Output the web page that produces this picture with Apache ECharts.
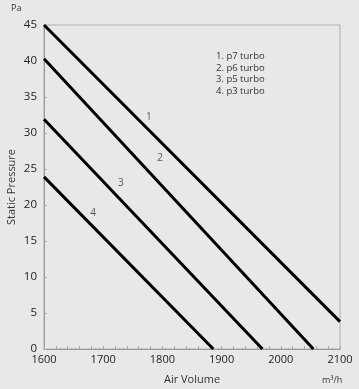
<!DOCTYPE html>
<html><head><meta charset="utf-8">
<script src="https://cdn.jsdelivr.net/npm/echarts@6/dist/echarts.min.js"></script>
<style>html,body{margin:0;padding:0;background:#e8e8e8;}#c{width:359px;height:389px;}</style>
</head><body><div id="c"></div>
<script>
var xTicks = [1600, 1700, 1800, 1900, 2000, 2100];
var yTicks = [0, 5, 10, 15, 20, 25, 30, 35, 40, 45];
var curve1 = [[1600, 45], [2100, 3.8]];
var curve2 = [[1600, 40.3], [2055, 0]];
var curve3 = [[1600, 31.9], [1969, 0]];
var curve4 = [[1600, 23.9], [1886, 0]];
var curveNames = ['1', '2', '3', '4'];
var curveLabelPos = [[1777, 32.2], [1796, 26.5], [1730, 23.1], [1683, 18.9]];
var legendLines = ['1. p7 turbo', '2. p6 turbo', '3. p5 turbo', '4. p3 turbo'];

var font = 'Open Sans';
var chart = echarts.init(document.getElementById('c'));
var curves = [curve1, curve2, curve3, curve4];
var series = curves.map(function (d, i) {
  return {type: 'line', data: d, symbol: 'none', silent: true,
    lineStyle: {color: '#000', width: 3}};
});
series.push({
  type: 'scatter', symbolSize: 0, silent: true,
  data: curveLabelPos.map(function (p, i) { return {value: p, name: curveNames[i]}; }),
  label: {show: true, position: 'inside', formatter: '{b}', color: '#333', fontSize: 10, fontFamily: font}
});
chart.setOption({
  backgroundColor: '#e8e8e8',
  animation: false,
  grid: {left: 44, right: 19, top: 25, bottom: 40, show: true, borderColor: '#b0b0b0', borderWidth: 1,
    backgroundColor: 'transparent', outerBoundsMode: 'none', containLabel: false},
  xAxis: {type: 'value', min: xTicks[0], max: xTicks[xTicks.length - 1], interval: 100,
    name: 'Air Volume', nameLocation: 'middle', nameGap: 25, nameMoveOverlap: false,
    nameTextStyle: {color: '#333', fontSize: 11, fontFamily: font},
    axisLine: {lineStyle: {color: '#999'}},
    axisTick: {show: true, inside: true, length: 3, lineStyle: {color: '#aaa'}},
    minorTick: {show: true, splitNumber: 5, length: 3, lineStyle: {color: '#aaa'}},
    splitLine: {show: false},
    axisLabel: {color: '#222', fontSize: 11, fontFamily: font, margin: 5, formatter: function (v) { return String(v); }}},
  yAxis: {type: 'value', min: 0, max: 45, interval: 5,
    name: 'Static Pressure', nameLocation: 'middle', nameGap: 27, nameRotate: 90, nameMoveOverlap: false,
    nameTextStyle: {color: '#333', fontSize: 11, fontFamily: font},
    axisLine: {show: true, lineStyle: {color: '#999'}},
    axisTick: {show: true, inside: true, length: 3, lineStyle: {color: '#aaa'}},
    splitLine: {show: false},
    axisLabel: {color: '#222', fontSize: 11.5, fontFamily: font, margin: 7}},
  graphic: [
    {type: 'text', left: 11, top: 4, style: {text: 'Pa', fill: '#333', fontSize: 9, fontFamily: font}},
    {type: 'text', left: 322, top: 376, style: {text: 'm³/h', fill: '#333', fontSize: 9, fontFamily: font}},
    {type: 'text', left: 216, top: 51, style: {text: legendLines.join('\n'), fill: '#333', fontSize: 9.5, lineHeight: 11.5, fontFamily: font}}
  ],
  series: series
});
</script></body></html>
